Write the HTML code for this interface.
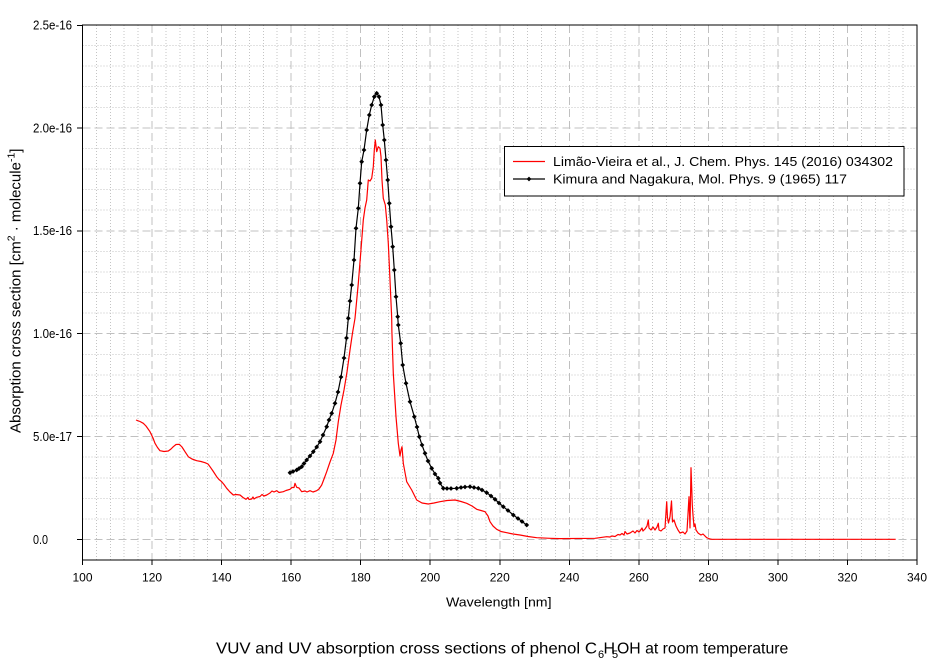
<!DOCTYPE html>
<html>
<head>
<meta charset="utf-8">
<style>
html,body{margin:0;padding:0;background:#fff;}
svg{display:block;}
text{font-family:"Liberation Sans",Arial,sans-serif;fill:#000;}
</style>
</head>
<body>
<svg width="942" height="665" viewBox="0 0 942 665" xmlns="http://www.w3.org/2000/svg">
<rect x="0" y="0" width="942" height="665" fill="#fff"/>
<defs>
<marker id="dm" markerUnits="userSpaceOnUse" markerWidth="6" markerHeight="6" refX="3" refY="3" viewBox="0 0 6 6">
<path d="M3 0.6 L5.4 3 L3 5.4 L0.6 3 Z" fill="#000"/>
</marker>
</defs>

<!-- minor vertical dotted grid -->
<path fill="none" stroke="#c4c4c4" stroke-width="1" stroke-dasharray="1 2" shape-rendering="crispEdges" d="
M96.41 25V560 M110.32 25V560 M124.22 25V560 M138.13 25V560
M165.95 25V560 M179.86 25V560 M193.77 25V560 M207.67 25V560
M235.49 25V560 M249.40 25V560 M263.31 25V560 M277.22 25V560
M305.03 25V560 M318.94 25V560 M332.85 25V560 M346.76 25V560
M374.57 25V560 M388.48 25V560 M402.39 25V560 M416.30 25V560
M444.12 25V560 M458.02 25V560 M471.93 25V560 M485.84 25V560
M513.66 25V560 M527.57 25V560 M541.47 25V560 M555.38 25V560
M583.20 25V560 M597.11 25V560 M611.02 25V560 M624.92 25V560
M652.74 25V560 M666.65 25V560 M680.56 25V560 M694.47 25V560
M722.28 25V560 M736.19 25V560 M750.10 25V560 M764.01 25V560
M791.82 25V560 M805.73 25V560 M819.64 25V560 M833.55 25V560
M861.37 25V560 M875.27 25V560 M889.18 25V560 M903.09 25V560"/>
<!-- minor horizontal dotted grid -->
<path fill="none" stroke="#c4c4c4" stroke-width="1" stroke-dasharray="1 2" shape-rendering="crispEdges" d="
M82.5 518.92H917 M82.5 498.34H917 M82.5 477.76H917 M82.5 457.18H917
M82.5 416.02H917 M82.5 395.44H917 M82.5 374.86H917 M82.5 354.28H917
M82.5 313.12H917 M82.5 292.54H917 M82.5 271.96H917 M82.5 251.38H917
M82.5 210.22H917 M82.5 189.64H917 M82.5 169.06H917 M82.5 148.48H917
M82.5 107.32H917 M82.5 86.74H917 M82.5 66.16H917 M82.5 45.58H917"/>
<!-- major dashed grid -->
<path fill="none" stroke="#c0c0c0" stroke-width="1" stroke-dasharray="8 4" shape-rendering="crispEdges" d="
M152.04 25V560 M221.58 25V560 M291.12 25V560 M360.67 25V560 M430.21 25V560
M499.75 25V560 M569.29 25V560 M638.83 25V560 M708.38 25V560 M777.92 25V560 M847.46 25V560
M82.5 539.5H917 M82.5 436.6H917 M82.5 333.7H917 M82.5 230.8H917 M82.5 127.9H917"/>

<!-- red series -->
<polyline fill="none" stroke="#ff0000" stroke-width="1.2" stroke-linejoin="round" points="
136,420 140,421.5 143.3,423.3 146,426 150,431.7 153,438 155,443.3 157.5,447.5 160,450.7 164,451.5
168.3,451 171,449 173.3,446.7 176,444.5 179.3,444.3 182,447 185,451.7 188.3,456.7 192,459 196.7,460.7
201,461.5 205,462.7 208,464 210,466.7 213,471 216.7,476.7 219,479.5 221.7,481.7 224,484.5 226.7,488.3
230,492 233.3,495 236,494.5 240,495 243,497.5 246,499.3 248,497.5 249,499.5 251.7,499 253,497 254,499
256.7,497.3 260,496.5 262,494.5 264,496 266.7,495 270,493 272,491 274,492 276.7,490.7 279,492.5
283.3,491.7 286,490.5 290,489.3 292,487.5 294,487.5 295,483.3 296.7,487.3 299,488 301.7,491.7 305,491
307,492 310,490.7 313,492 316.7,490.7 319,489 321.7,485 324,479 326.7,471.7 330,462 333.3,453.3
336,440 338.3,421.7 341,405 344,390 347,372 350,350 352.5,333 355,318.3
358.3,283.3 360.7,253.3 363.3,220 365,208 366.7,200 368.3,180 370,181 371.7,178.3 373.3,166.7
374.3,150 375.3,140 376.7,151.7 378.3,146.7 380,148.3 381,156.7 382,180 383.3,198.3 385.3,205
386.7,220 388.3,243.3 390,280 391.7,318.3 391.9,331.7 393.3,373.3 396,416.7 398.3,443.3 400,456
401,450 402,446.7 403.3,463.3 406.7,481.7 411.7,490 416.7,500 422,503 428.3,504 434,503 440,501.7
447,500.5 455,500 461,501.5 466.7,503.3 472,506 476.7,509.3 481,510.5 485,511.7 488,516 490,521.7
493,526 496.7,529.3 501,531.5 506.7,532.7 513,534 520,535 528,536.5 536.7,537.7 550,538.3 560,538.6
595,538.3 606.7,536.7 610,537 612,536 615,536.5 618,534.5 620,535 622,533.5 624,535 625,531.5 627,534
630,533 633,531 635,533 637,530.5 639,532 640,531 642,528 643,531 645,529 647,526 648.3,520 649,528
651,530 653,527 655,530 657,527 658.3,523.3 659,530 661,531 663,529 665,528 666.7,501.7 667.5,518
668.5,523 670,516.7 671.5,501 672.5,522 674,520 676,526 678,530 680,533 683,532 685,534 687,531
689,496.7 690,528 691,467.7 692.3,505 693,515 694,526.7 695,524 696,530 698.3,533.3 701,535 703,534
706.7,537.7 710,539 712,539.3 895.7,539.3"/>

<!-- black series -->
<polyline fill="none" stroke="#000" stroke-width="1.2" stroke-linejoin="round" marker-start="url(#dm)" marker-mid="url(#dm)" marker-end="url(#dm)" points="
290,472.7 293,471.5 296.7,470 299,468.5 301.7,466.7 304,463.5 306.7,460 310,456 313.3,451.7 316.7,447
320,441.7 323,435 326.7,426.7 329,420 331.7,413.3 335,403.3 338,392 341,377 344,358 346.5,338
348.3,318.3 350,301 351.7,285 354,260 356,228.3 358.3,208.3 360,183.3 361.7,161.7 364,150 366.7,130
369.3,115 371.7,105 374.3,96.7 376.7,93.3 379,96.7 381,105 382.7,125 384.3,140 386,160 387.7,180
389.3,203.3 391,226.7 392.7,246.7 394.3,270 396,296.7 397.7,316.7 398.3,325 400.7,343.3 402.7,365
406,383.3 410,401.7 414.3,416.7 417,427 419.3,436.7 422,445 425,453.3 428,461 431.7,468.3 435,474
438.3,478.3 440,483 443.3,488.3 447,488.5 451,488.5 456.7,488.3 461,487.5 465,487 470,486.7 474,487.5
478.3,488.3 482,490 486.7,492.7 491,496 495,499.3 499,503 503.3,506.7 508,510.5 513.3,515 518,518.5
522,521.5 526.7,525"/>

<!-- plot frame -->
<rect x="82.5" y="25" width="834.5" height="535" fill="none" stroke="#000" stroke-width="1" shape-rendering="crispEdges"/>

<!-- y ticks -->
<path stroke="#000" stroke-width="1" shape-rendering="crispEdges" d="M77 25.5H82.5 M77 127.9H82.5 M77 230.8H82.5 M77 333.7H82.5 M77 436.6H82.5 M77 539.5H82.5"/>
<!-- x ticks -->
<path stroke="#000" stroke-width="1" shape-rendering="crispEdges" d="M82.5 560V565 M152.04 560V565 M221.58 560V565 M291.12 560V565 M360.67 560V565 M430.21 560V565 M499.75 560V565 M569.29 560V565 M638.83 560V565 M708.38 560V565 M777.92 560V565 M847.46 560V565 M917 560V565"/>

<!-- y tick labels -->
<g font-size="12.5">
<text x="33" y="29.5" textLength="39" lengthAdjust="spacingAndGlyphs">2.5e-16</text>
<text x="33" y="132.3" textLength="39" lengthAdjust="spacingAndGlyphs">2.0e-16</text>
<text x="33" y="235.2" textLength="39" lengthAdjust="spacingAndGlyphs">1.5e-16</text>
<text x="33" y="338.1" textLength="39" lengthAdjust="spacingAndGlyphs">1.0e-16</text>
<text x="33" y="441" textLength="39" lengthAdjust="spacingAndGlyphs">5.0e-17</text>
<text x="33" y="543.8" textLength="15" lengthAdjust="spacingAndGlyphs">0.0</text>
</g>

<!-- x tick labels -->
<g font-size="12" text-anchor="middle">
<text x="82.5" y="581.7">100</text>
<text x="152.04" y="581.7">120</text>
<text x="221.58" y="581.7">140</text>
<text x="291.12" y="581.7">160</text>
<text x="360.67" y="581.7">180</text>
<text x="430.21" y="581.7">200</text>
<text x="499.75" y="581.7">220</text>
<text x="569.29" y="581.7">240</text>
<text x="638.83" y="581.7">260</text>
<text x="708.38" y="581.7">280</text>
<text x="777.92" y="581.7">300</text>
<text x="847.46" y="581.7">320</text>
<text x="917" y="581.7">340</text>
</g>

<!-- x axis title -->
<text x="446" y="606.7" font-size="13" textLength="105.5" lengthAdjust="spacingAndGlyphs">Wavelength [nm]</text>

<!-- y axis title -->
<g transform="translate(20.5,433) rotate(-90)">
<text x="0" y="0" font-size="15">Absorption cross section [cm<tspan font-size="10.5" dy="-6">2</tspan><tspan dy="6"> · molecule</tspan><tspan font-size="10.5" dy="-6">-1</tspan><tspan dy="6">]</tspan></text>
</g>

<!-- legend -->
<rect x="504.5" y="146.5" width="399.5" height="49.5" fill="#fff" stroke="#000" stroke-width="1" shape-rendering="crispEdges"/>
<line x1="513" y1="161.5" x2="545" y2="161.5" stroke="#ff0000" stroke-width="1.2"/>
<line x1="513" y1="179" x2="545" y2="179" stroke="#000" stroke-width="1.2"/>
<path d="M529 176.6 L531.4 179 L529 181.4 L526.6 179 Z" fill="#000"/>
<text x="553" y="166" font-size="12.5" textLength="340" lengthAdjust="spacingAndGlyphs">Limão-Vieira et al., J. Chem. Phys. 145 (2016) 034302</text>
<text x="553" y="183.5" font-size="12.5" textLength="294" lengthAdjust="spacingAndGlyphs">Kimura and Nagakura, Mol. Phys. 9 (1965) 117</text>

<!-- chart title -->
<g font-size="16">
<text x="216" y="653.3" textLength="381" lengthAdjust="spacingAndGlyphs">VUV and UV absorption cross sections of phenol C</text>
<text x="598" y="658" font-size="11">6</text>
<text x="603.5" y="653.3">H</text>
<text x="612" y="658" font-size="11">5</text>
<text x="617" y="653.3" textLength="171.3" lengthAdjust="spacingAndGlyphs">OH at room temperature</text>
</g>
</svg>
</body>
</html>
